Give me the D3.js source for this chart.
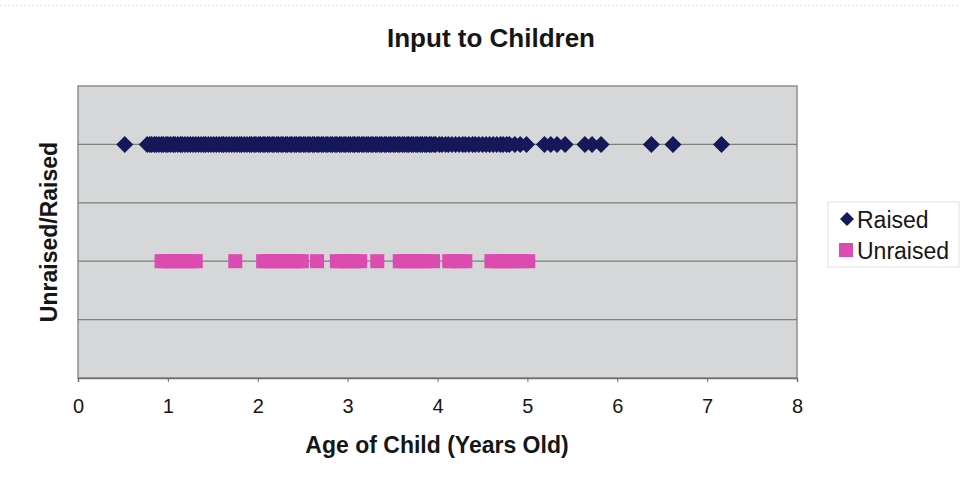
<!DOCTYPE html>
<html>
<head>
<meta charset="utf-8">
<script src="https://cdn.jsdelivr.net/npm/d3@7"></script>
<style>
  body { margin: 0; background: #fff; }
  svg { display: block; font-family: "Liberation Sans", Arial, sans-serif; }
</style>
</head>
<body>
<svg id="chart" width="960" height="486"></svg>
<script>
// ages (years) of children whose input was raised / unraised
var raisedAges = [0.52, 0.77, 0.80, 0.82, 0.85, 0.87, 0.90, 0.93, 0.95, 0.98, 1.00, 1.03, 1.06,
    1.08, 1.11, 1.14, 1.16, 1.19, 1.22, 1.25, 1.28, 1.31, 1.34, 1.37, 1.40, 1.42, 1.45, 1.48,
    1.51, 1.54, 1.57, 1.60, 1.62, 1.65, 1.68, 1.71, 1.74, 1.77, 1.80, 1.82, 1.85, 1.88, 1.91,
    1.93, 1.96, 1.98, 2.01, 2.03, 2.06, 2.08, 2.11, 2.13, 2.16, 2.18, 2.21, 2.23, 2.26, 2.28,
    2.31, 2.33, 2.36, 2.38, 2.41, 2.43, 2.46, 2.48, 2.51, 2.53, 2.56, 2.58, 2.61, 2.63, 2.66,
    2.68, 2.71, 2.73, 2.76, 2.78, 2.81, 2.83, 2.86, 2.88, 2.91, 2.93, 2.96, 2.98, 3.01, 3.03,
    3.06, 3.08, 3.11, 3.13, 3.16, 3.18, 3.21, 3.23, 3.26, 3.28, 3.31, 3.33, 3.36, 3.38, 3.41,
    3.43, 3.46, 3.48, 3.51, 3.53, 3.56, 3.58, 3.61, 3.63, 3.66, 3.68, 3.71, 3.73, 3.76, 3.78,
    3.81, 3.83, 3.86, 3.88, 3.91, 3.93, 3.96, 3.98, 4.02, 4.05, 4.09, 4.12, 4.16, 4.20, 4.24,
    4.28, 4.31, 4.35, 4.39, 4.42, 4.46, 4.50, 4.54, 4.58, 4.62, 4.66, 4.70, 4.73, 4.77, 4.80,
    4.86, 4.92, 4.99, 5.19, 5.26, 5.33, 5.42, 5.64, 5.72, 5.82, 6.38, 6.62, 7.16];
var unraisedAges = [0.93, 0.98, 1.02, 1.07, 1.12, 1.17, 1.22, 1.27, 1.31,
    1.75,
    2.06, 2.11, 2.16, 2.21, 2.26, 2.31, 2.36, 2.41, 2.45, 2.49,
    2.66,
    2.88, 2.93, 2.98, 3.03, 3.08, 3.14,
    3.33,
    3.58, 3.63, 3.68, 3.73, 3.78, 3.83, 3.88, 3.95,
    4.13, 4.18, 4.24, 4.31,
    4.60, 4.65, 4.70, 4.76, 4.82, 4.88, 4.94, 5.01];
var raisedLevel = 2,
    unraisedLevel = 1;
var xTicks = [0, 1, 2, 3, 4, 5, 6, 7, 8];
var yTicks = [0, 0.5, 1, 1.5, 2, 2.5];
var seriesNames = ["Raised", "Unraised"];

var plotLeft = 78,
    plotRight = 797,
    plotTop = 86,
    plotBottom = 378,
    navy = "#15195a",
    pink = "#dc4bb0",
    textColor = "#161616";

var svg = d3.select("#chart");

var x = d3.scaleLinear().domain([0, 8]).range([plotLeft, plotRight]);
var y = d3.scaleLinear().domain([0, 2.5]).range([plotBottom, plotTop]);

// faint outer frame line at the top
svg.append("line")
    .attr("x1", 0).attr("x2", 960)
    .attr("y1", 5.5).attr("y2", 5.5)
    .style("stroke", "#e4e4e4")
    .style("stroke-dasharray", "2,2");

// plot background
svg.append("rect")
    .attr("x", plotLeft)
    .attr("y", plotTop)
    .attr("width", plotRight - plotLeft)
    .attr("height", plotBottom - plotTop)
    .style("fill", "#d5d7d9")
    .style("stroke", "#8e8f8c")
    .style("stroke-width", 1.5);

// horizontal gridlines
svg.append("g")
    .selectAll("line")
    .data(yTicks.slice(1, -1))
    .enter()
    .append("line")
    .attr("x1", plotLeft)
    .attr("x2", plotRight)
    .attr("y1", function(d) { return y(d); })
    .attr("y2", function(d) { return y(d); })
    .style("stroke", "#7f8077")
    .style("stroke-width", 1.2);

// x axis
var xAxis = svg.append("g")
    .attr("transform", "translate(0," + plotBottom + ")")
    .call(d3.axisBottom(x).tickValues(xTicks).tickSize(4).tickPadding(17).tickFormat(d3.format("d")));
xAxis.select(".domain").style("stroke", "#6e6e6a").style("stroke-width", 1.5);
xAxis.selectAll(".tick line").style("stroke", "#6e6e6a");
xAxis.selectAll("text")
    .style("font-size", "20px")
    .style("fill", textColor);

// markers
var diamondPath = "M0,-8.5L8.5,0L0,8.5L-8.5,0Z";
svg.append("g")
    .selectAll("path")
    .data(raisedAges)
    .enter()
    .append("path")
    .attr("d", diamondPath)
    .attr("transform", function(d) { return "translate(" + x(d) + "," + y(raisedLevel) + ")"; })
    .style("fill", navy);

svg.append("g")
    .selectAll("rect")
    .data(unraisedAges)
    .enter()
    .append("rect")
    .attr("x", function(d) { return x(d) - 7; })
    .attr("y", y(unraisedLevel) - 7)
    .attr("width", 14)
    .attr("height", 14)
    .style("fill", pink);

// titles
svg.append("text")
    .attr("x", 491)
    .attr("y", 47)
    .attr("text-anchor", "middle")
    .style("font-size", "26px")
    .style("font-weight", "bold")
    .style("fill", textColor)
    .text("Input to Children");

svg.append("text")
    .attr("x", 437)
    .attr("y", 453)
    .attr("text-anchor", "middle")
    .style("font-size", "23px")
    .style("font-weight", "bold")
    .style("fill", textColor)
    .text("Age of Child (Years Old)");

svg.append("text")
    .attr("transform", "translate(57," + ((plotTop + plotBottom) / 2) + ") rotate(-90)")
    .attr("text-anchor", "middle")
    .style("font-size", "23px")
    .style("font-weight", "bold")
    .style("fill", textColor)
    .text("Unraised/Raised");

// legend
var legend = svg.append("g");
legend.append("rect")
    .attr("x", 828)
    .attr("y", 202)
    .attr("width", 131)
    .attr("height", 65)
    .style("fill", "#fff")
    .style("stroke", "#e2e2e2");

var legendItems = legend.selectAll("g.item")
    .data(seriesNames)
    .enter()
    .append("g")
    .attr("class", "item")
    .attr("transform", function(d, i) { return "translate(0," + (219 + i * 31) + ")"; });

legendItems.each(function(d, i) {
    var g = d3.select(this);
    if (i == 0) {
        g.append("path")
            .attr("d", "M0,-7L7,0L0,7L-7,0Z")
            .attr("transform", "translate(847,0)")
            .style("fill", navy);
    } else {
        g.append("rect")
            .attr("x", 839).attr("y", -7)
            .attr("width", 14).attr("height", 14)
            .style("fill", pink);
    }
    g.append("text")
        .attr("x", 857)
        .attr("y", 9)
        .style("font-size", "23px")
        .style("fill", textColor)
        .text(d);
});
</script>
</body>
</html>
